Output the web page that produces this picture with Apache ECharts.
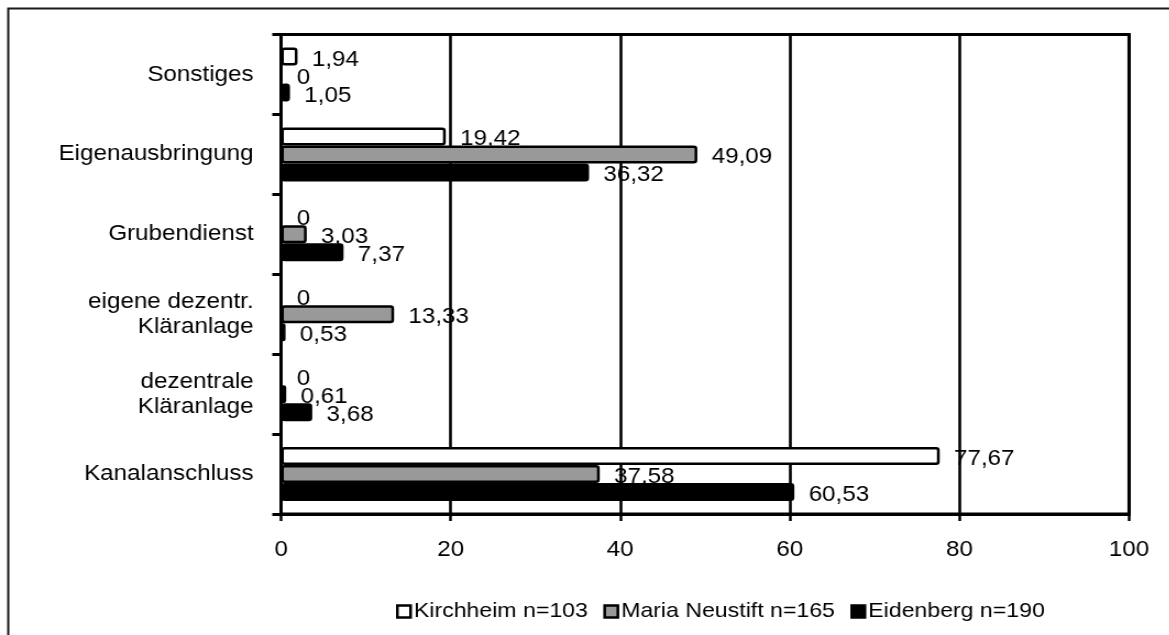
<!DOCTYPE html>
<html>
<head>
<meta charset="utf-8">
<script src="https://cdn.jsdelivr.net/npm/echarts@6/dist/echarts.min.js"></script>
<style>
  html, body { margin: 0; padding: 0; background: #fff; overflow: hidden; }
  /* chart is laid out slightly narrower and widened horizontally, like the original sheet export */
  #chart { width: 1063px; height: 635px; transform: scaleX(1.1); transform-origin: 0 0; }
</style>
</head>
<body>
<div id="chart"></div>
<script>
// categories listed from top to bottom
const categories = [
  'Sonstiges',
  'Eigenausbringung',
  'Grubendienst',
  'eigene dezentr.\nKläranlage',
  'dezentrale\nKläranlage',
  'Kanalanschluss'
];
// shares in percent per municipality
const kirchheim     = [1.94, 19.42, 0,    0,     0,    77.67];
const mariaNeustift = [0,    49.09, 3.03, 13.33, 0.61, 37.58];
const eidenberg     = [1.05, 36.32, 7.37, 0.53,  3.68, 60.53];
const seriesNames = ['Kirchheim n=103', 'Maria Neustift n=165', 'Eidenberg n=190'];
const xTicks = [0, 20, 40, 60, 80, 100];

const FONT = '"Liberation Sans", Arial, sans-serif';
const fills = ['#ffffff', '#999999', '#000000'];
const values = [kirchheim, mariaNeustift, eidenberg];

const chart = echarts.init(document.getElementById('chart'), null, { renderer: 'canvas' });

const series = seriesNames.map((name, i) => ({
  name: name,
  type: 'bar',
  data: values[i],
  barWidth: 18,
  barGap: '0%',
  itemStyle: {
    color: fills[i],
    borderColor: '#000',
    borderWidth: 2.5,
    borderRadius: 2
  },
  label: {
    show: true,
    position: 'right',
    distance: 13,
    offset: [0, 3],
    color: '#000',
    fontFamily: FONT,
    fontSize: 22,
    formatter: p => String(p.value).replace('.', ',')
  },
  emphasis: { disabled: true },
  animation: false
}));

chart.setOption({
  animation: false,
  textStyle: { fontFamily: FONT },
  graphic: [{
    type: 'rect',
    shape: { x: 7.5, y: 8.5, width: 1200, height: 700 },
    style: { fill: 'none', stroke: '#1a1a1a', lineWidth: 2 },
    silent: true,
    z: -10
  }],
  grid: {
    left: 255.5,
    right: 36.6,
    top: 34.5,
    bottom: 121,
    show: true,
    borderColor: '#000',
    borderWidth: 3
  },
  legend: {
    data: seriesNames,
    left: 355,
    top: 596,
    icon: 'rect',
    itemWidth: 12,
    itemHeight: 12,
    itemGap: 14,
    itemStyle: { borderColor: '#000', borderWidth: 2.5 },
    textStyle: { color: '#000', fontFamily: FONT, fontSize: 21, padding: [0, 0, 0, -2] }
  },
  xAxis: {
    type: 'value',
    min: xTicks[0],
    max: xTicks[xTicks.length - 1],
    interval: xTicks[1] - xTicks[0],
    axisLine: { show: true, lineStyle: { color: '#000', width: 3 } },
    axisTick: { show: true, length: 7, lineStyle: { color: '#000', width: 2.5 } },
    splitLine: { show: true, lineStyle: { color: '#000', width: 2.6 } },
    axisLabel: {
      color: '#000', fontFamily: FONT, fontSize: 22, margin: 25,
      formatter: v => String(v)
    }
  },
  yAxis: {
    type: 'category',
    inverse: true,
    data: categories,
    axisLine: { show: true, lineStyle: { color: '#000', width: 2.5 } },
    axisTick: { show: true, length: 8, lineStyle: { color: '#000', width: 3 } },
    axisLabel: {
      color: '#000', fontFamily: FONT, fontSize: 22, margin: 25,
      lineHeight: 25, align: 'right'
    },
    splitLine: { show: false }
  },
  series: series
});
</script>
</body>
</html>
